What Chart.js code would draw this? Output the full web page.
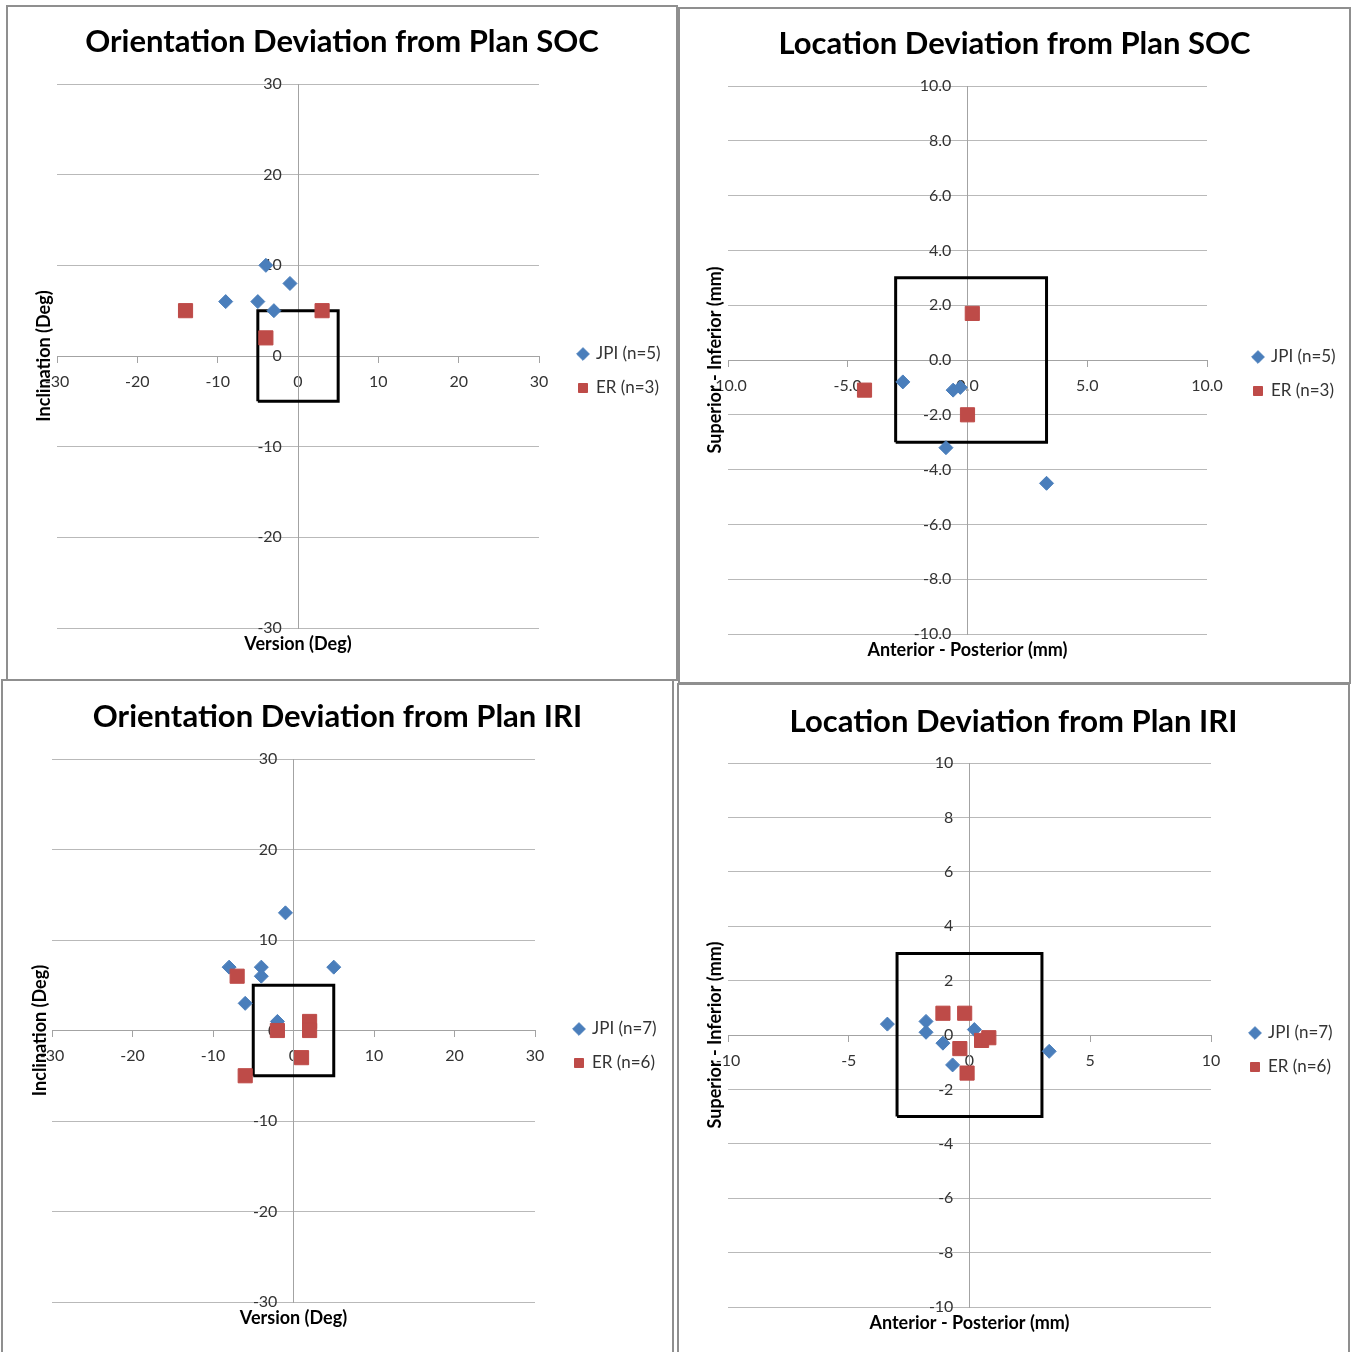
<!DOCTYPE html>
<html lang="en">
<head>
<meta charset="UTF-8">
<title>Deviation from Plan - SOC / IRI</title>
<script src="https://cdn.jsdelivr.net/npm/chart.js@4"></script>
<style>
  body {
    margin: 0;
    width: 1351px;
    height: 1352px;
    position: relative;
    overflow: hidden;
    background: #fff;
  }
  .panel {
    position: absolute;
    box-sizing: border-box;
    border: 2px solid #8f8f8f;
    background: #fff;
  }
  .panel canvas {
    display: block;
  }
</style>
</head>
<body>
<div class="panel" style="left:6px;top:5px;width:672px;height:676px"><canvas id="socOrientation"></canvas></div>
<div class="panel" style="left:678px;top:7px;width:673px;height:677px"><canvas id="socLocation"></canvas></div>
<div class="panel" style="left:1px;top:679px;width:673px;height:676px"><canvas id="iriOrientation"></canvas></div>
<div class="panel" style="left:677px;top:683px;width:673px;height:672px"><canvas id="iriLocation"></canvas></div>

<script>
// --- data ---

// Orientation deviation, SOC (deg): version on x, inclination on y
const socOrientJpiVersion = [-4, -1, -9, -5, -3];
const socOrientJpiIncl = [10, 8, 6, 6, 5];
const socOrientErVersion = [-14, 3, -4];
const socOrientErIncl = [5, 5, 2];
const socOrientBox = [-5, 5, -5, 5]; // xMin, xMax, yMin, yMax

// Location deviation, SOC (mm): anterior-posterior on x, superior-inferior on y
const socLocJpiAP = [-2.7, -0.6, -0.3, -0.9, 3.3];
const socLocJpiSI = [-0.8, -1.1, -1.0, -3.2, -4.5];
const socLocErAP = [-4.3, 0.2, 0.0];
const socLocErSI = [-1.1, 1.7, -2.0];
const socLocBox = [-3, 3.3, -3, 3];

// Orientation deviation, IRI (deg)
const iriOrientJpiVersion = [-1, -8, -4, -4, 5, -6, -2];
const iriOrientJpiIncl = [13, 7, 7, 6, 7, 3, 1];
const iriOrientErVersion = [-7, -2, 2, 2, 1, -6];
const iriOrientErIncl = [6, 0, 1, 0, -3, -5];
const iriOrientBox = [-5, 5, -5, 5];

// Location deviation, IRI (mm)
const iriLocJpiAP = [-3.4, -1.8, -1.8, -1.1, 0.2, -0.7, 3.3];
const iriLocJpiSI = [0.4, 0.5, 0.1, -0.3, 0.2, -1.1, -0.6];
const iriLocErAP = [-1.1, -0.2, 0.5, 0.8, -0.4, -0.1];
const iriLocErSI = [0.8, 0.8, -0.2, -0.1, -0.5, -1.4];
const iriLocBox = [-3, 3, -3, 3];

// tick labels
const orientTicks = [-30, -20, -10, 0, 10, 20, 30];
const locXTicks = [-10, -5, 0, 5, 10];
const locYTicks = [-10, -8, -6, -4, -2, 0, 2, 4, 6, 8, 10];

// --- styling ---
const FONT = "Lato, 'Open Sans', sans-serif";
const BLUE = '#4a7ebb';
const RED = '#be4b48';
const GRID_GREY = '#b9b9b9';
const AXIS_GREY = '#a3a3a3';

Chart.defaults.font.family = FONT;
Chart.defaults.color = '#333';

const toPoints = (xs, ys) => xs.map((x, i) => ({ x, y: ys[i] }));
const boxPoints = ([x0, x1, y0, y1]) => [
  { x: x0, y: y0 }, { x: x0, y: y1 }, { x: x1, y: y1 }, { x: x1, y: y0 }, { x: x0, y: y0 }
];

// Excel-style extras: title centred on the whole panel, legend placed by hand,
// axis titles at the outer edges instead of next to the centred axes
const excelFrame = {
  id: 'excelFrame',
  afterLayout(chart, args, opts) {
    const tb = chart.titleBlock;
    tb.left = 0;
    tb.right = chart.width;

    const lg = chart.legend;
    const lab = lg.options.labels;
    lg.left = opts.legendAt[0] - lab.boxWidth / 2 - lab.padding;
    lg.right = lg.left + lg.width;
    lg.top = opts.legendAt[1] - lab.font.size / 2 - lab.padding;
    lg.bottom = lg.top + lg.height;
  },
  afterDraw(chart, args, opts) {
    const { ctx, chartArea: a } = chart;
    ctx.save();
    ctx.font = 'bold 18px ' + FONT;
    ctx.fillStyle = '#000';
    ctx.textAlign = 'center';
    ctx.textBaseline = 'middle';
    ctx.fillText(opts.xTitle, (a.left + a.right) / 2, a.bottom + 16);
    ctx.translate(opts.yTitleX, (a.top + a.bottom) / 2);
    ctx.rotate(-Math.PI / 2);
    ctx.fillText(opts.yTitle, 0, 0);
    ctx.restore();
  }
};

function makeChart(id, cfg) {
  const canvas = document.getElementById(id);
  const [W, H] = cfg.size;
  canvas.width = W;
  canvas.height = H;
  const fmt = (v) => Number(v).toFixed(cfg.decimals);

  return new Chart(canvas, {
    type: 'scatter',
    data: {
      datasets: [
        {
          label: cfg.jpiLabel,
          data: toPoints(cfg.jpi[0], cfg.jpi[1]),
          pointStyle: 'rectRot',
          pointRadius: 7,
          backgroundColor: BLUE,
          borderColor: BLUE,
          borderWidth: 1,
          order: 2
        },
        {
          label: cfg.erLabel,
          data: toPoints(cfg.er[0], cfg.er[1]),
          pointStyle: 'rect',
          pointRadius: 10,
          backgroundColor: RED,
          borderColor: RED,
          borderWidth: 1,
          order: 1
        },
        {
          label: 'box',
          type: 'line',
          data: boxPoints(cfg.box),
          borderColor: '#000',
          borderWidth: 3,
          borderJoinStyle: 'miter',
          pointRadius: 0,
          fill: false,
          order: 3
        }
      ]
    },
    options: {
      responsive: false,
      animation: false,
      events: [],
      layout: {
        padding: {
          left: cfg.area[0],
          right: W - cfg.area[1],
          top: 0,
          bottom: H - cfg.area[3]
        }
      },
      scales: {
        x: {
          type: 'linear',
          position: { y: 0 },
          min: cfg.xTicks[0],
          max: cfg.xTicks[cfg.xTicks.length - 1],
          afterBuildTicks: (s) => { s.ticks = cfg.xTicks.map((v) => ({ value: v })); },
          ticks: { callback: fmt, font: { size: 16 }, color: '#333', padding: 10, maxRotation: 0, autoSkip: false },
          grid: { drawOnChartArea: false, drawTicks: true, tickLength: 6, color: AXIS_GREY },
          border: { color: AXIS_GREY }
        },
        y: {
          type: 'linear',
          position: { x: 0 },
          min: cfg.yTicks[0],
          max: cfg.yTicks[cfg.yTicks.length - 1],
          afterBuildTicks: (s) => { s.ticks = cfg.yTicks.map((v) => ({ value: v })); },
          // trailing space keeps the labels off the vertical axis line
          ticks: { callback: (v) => fmt(v) + '\u2003 ', font: { size: 16 }, color: '#333', autoSkip: false },
          grid: { drawTicks: false, color: GRID_GREY },
          border: { color: AXIS_GREY }
        }
      },
      plugins: {
        tooltip: { enabled: false },
        title: {
          display: true,
          text: cfg.title,
          color: '#000',
          font: { size: 31, weight: 'bold' },
          padding: { top: cfg.titleY - 18.6, bottom: cfg.area[2] - cfg.titleY - 18.6 }
        },
        legend: {
          position: 'chartArea',
          align: 'start',
          labels: {
            usePointStyle: true,
            boxWidth: 9,
            boxHeight: 9,
            padding: 17,
            font: { size: 17 },
            color: '#333',
            filter: (item) => item.datasetIndex < 2,
            sort: (a, b) => a.datasetIndex - b.datasetIndex
          }
        },
        excelFrame: {
          xTitle: cfg.xTitle,
          yTitle: cfg.yTitle,
          yTitleX: cfg.yTitleX,
          legendAt: cfg.legendAt
        }
      }
    },
    plugins: [excelFrame]
  });
}

// area = [left, right, top, bottom] of the plot area inside each panel
makeChart('socOrientation', {
  size: [668, 672], area: [49, 531, 77, 621], titleY: 35, yTitleX: 36, legendAt: [575, 347],
  title: 'Orientation Deviation from Plan SOC',
  xTitle: 'Version (Deg)', yTitle: 'Inclination (Deg)',
  jpiLabel: 'JPI (n=5)', erLabel: 'ER (n=3)',
  jpi: [socOrientJpiVersion, socOrientJpiIncl], er: [socOrientErVersion, socOrientErIncl], box: socOrientBox,
  xTicks: orientTicks, yTicks: orientTicks, decimals: 0
});

makeChart('socLocation', {
  size: [669, 673], area: [48, 527, 77, 625], titleY: 35, yTitleX: 35, legendAt: [578, 348],
  title: 'Location Deviation from Plan SOC',
  xTitle: 'Anterior - Posterior (mm)', yTitle: 'Superior - Inferior (mm)',
  jpiLabel: 'JPI (n=5)', erLabel: 'ER (n=3)',
  jpi: [socLocJpiAP, socLocJpiSI], er: [socLocErAP, socLocErSI], box: socLocBox,
  xTicks: locXTicks, yTicks: locYTicks, decimals: 1
});

makeChart('iriOrientation', {
  size: [669, 672], area: [49, 532, 78, 621], titleY: 36, yTitleX: 37, legendAt: [576, 348],
  title: 'Orientation Deviation from Plan IRI',
  xTitle: 'Version (Deg)', yTitle: 'Inclination (Deg)',
  jpiLabel: 'JPI (n=7)', erLabel: 'ER (n=6)',
  jpi: [iriOrientJpiVersion, iriOrientJpiIncl], er: [iriOrientErVersion, iriOrientErIncl], box: iriOrientBox,
  xTicks: orientTicks, yTicks: orientTicks, decimals: 0
});

makeChart('iriLocation', {
  size: [669, 668], area: [49, 532, 78, 622], titleY: 37, yTitleX: 36, legendAt: [576, 348],
  title: 'Location Deviation from Plan IRI',
  xTitle: 'Anterior - Posterior (mm)', yTitle: 'Superior - Inferior (mm)',
  jpiLabel: 'JPI (n=7)', erLabel: 'ER (n=6)',
  jpi: [iriLocJpiAP, iriLocJpiSI], er: [iriLocErAP, iriLocErSI], box: iriLocBox,
  xTicks: locXTicks, yTicks: locYTicks, decimals: 0
});
</script>
</body>
</html>
